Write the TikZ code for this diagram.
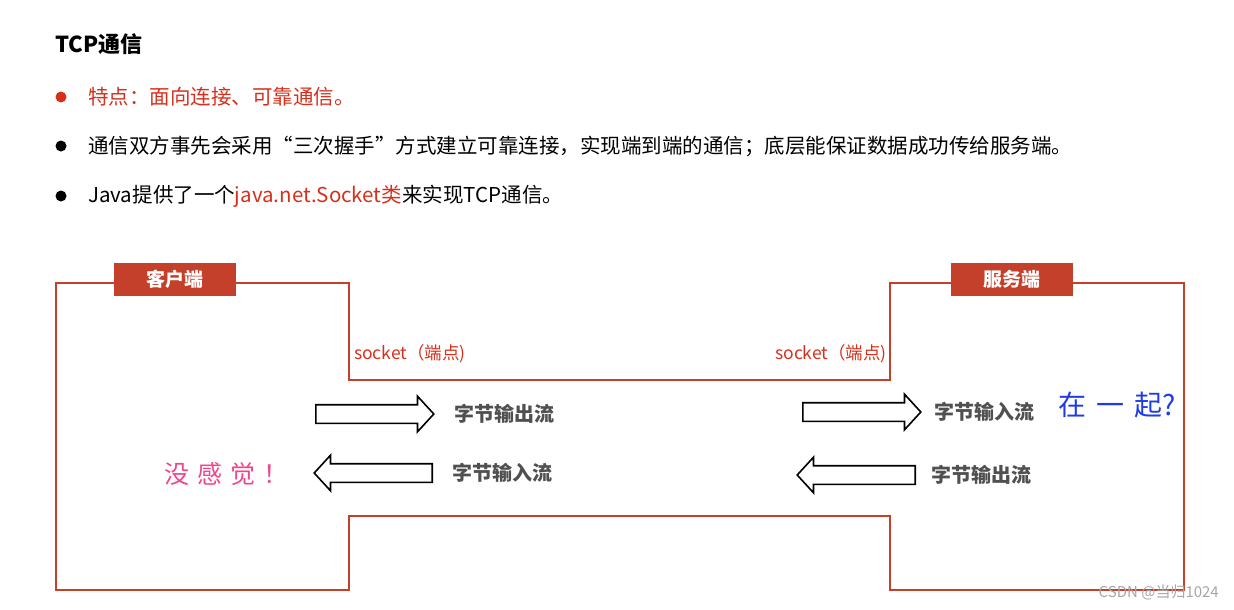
\documentclass[tikz,border=0pt]{standalone}
\usepackage{fontspec}
\setmainfont{Noto Sans CJK SC}
\usetikzlibrary{positioning,shapes.arrows}
\definecolor{boxred}{RGB}{196,64,42}
\definecolor{textred}{RGB}{214,48,28}
\definecolor{streamgray}{RGB}{80,80,80}
\definecolor{penblue}{RGB}{30,60,230}
\definecolor{penpink}{RGB}{240,70,140}
\tikzset{dotmark/.style={circle,fill=#1,inner sep=0pt,minimum size=11pt},
 dotmark/.default=black,
 linetext/.style={anchor=west,inner sep=0pt,font=\fontsize{20.5}{24}\selectfont},
 boxline/.style={draw=boxred,line width=2.5pt,line join=miter},
 endtag/.style={fill=boxred,text=white,minimum width=122pt,minimum height=33pt,
  inner sep=0pt,font=\bfseries\fontsize{19}{22}\selectfont},
 sockettext/.style={text=textred,inner sep=0pt,font=\fontsize{17.5}{20}\selectfont},
 hollow arrow/.style={single arrow,draw=black,fill=white,line width=1.6pt,
  minimum height=118pt,minimum width=34pt,single arrow head extend=8.5pt,
  single arrow tip angle=95,inner xsep=0pt,inner ysep=8.5pt,
  text height=0pt,text depth=0pt},
 streamtext/.style={text=streamgray,inner sep=0pt,anchor=west,
  font=\bfseries\fontsize{20}{23}\selectfont}}

\begin{document}
\begin{tikzpicture}[x=1pt,y=-1pt]
\useasboundingbox (0,0) rectangle (1234,610);

% title and bullet lines
\node[anchor=west,inner sep=0pt,font=\bfseries\fontsize{22}{26}\selectfont] (title) at (55,44) {TCP通信};
\node[dotmark=textred] (dot1) at (61,97) {};
\node[linetext,text=textred] (line1) at (88,97) {特点：面向连接、可靠通信。};
\node[dotmark] (dot2) at (61,146) {};
\node[linetext] (line2) at (88,146) {通信双方事先会采用“三次握手”方式建立可靠连接，实现端到端的通信；底层能保证数据成功传给服务端。};
\node[dotmark] (dot3) at (61,196) {};
\node[linetext] (line3) at (88,196) {Java提供了一个\textcolor{textred}{java.net.Socket类}来实现TCP通信。};

% client, pipe and server outline
\draw[boxline] (56,283) -| (349,380) -| (890,283) -| (1184,590) -| (890,516) -| (349,590) -- (56,590) -- cycle;
\node[endtag] (client) at (175,279.5) {客户端};
\node[endtag] (server) at (1012,279.5) {服务端};
\node[sockettext,anchor=west] (sockL) at (354,354) {socket（端点)};
\node[sockettext,anchor=east] (sockR) at (887,354) {socket（端点)};

% streams
\node[hollow arrow,anchor=tail] (cout) at (315,414) {};
\node[hollow arrow,anchor=tail,shape border rotate=180] (cin) at (433,473) {};
\node[hollow arrow,anchor=tail] (sin) at (802,412) {};
\node[hollow arrow,anchor=tail,shape border rotate=180] (sout) at (916,475) {};
\node[streamtext,right=19pt of cout.tip] (coutlbl) {字节输出流};
\node[streamtext,right=19pt of cin.tail] (cinlbl) {字节输入流};
\node[streamtext,right=12pt of sin.tip] (sinlbl) {字节输入流};
\node[streamtext,right=15pt of sout.tail] (soutlbl) {字节输出流};

% notes
\node[text=penpink,font=\fontsize{25}{28}\selectfont] (nofeel) at (226,474) {没\hspace{8pt}感\hspace{8pt}觉\hspace{8pt}！};
\node[text=penblue,font=\fontsize{28}{30}\selectfont] (together) at (1117,405) {在\hspace{10pt}一\hspace{10pt}起?};
\node[text=gray!70,anchor=east,inner sep=0pt,font=\fontsize{15}{18}\selectfont] (mark) at (1219,592) {CSDN @当归1024};
\end{tikzpicture}
\end{document}
